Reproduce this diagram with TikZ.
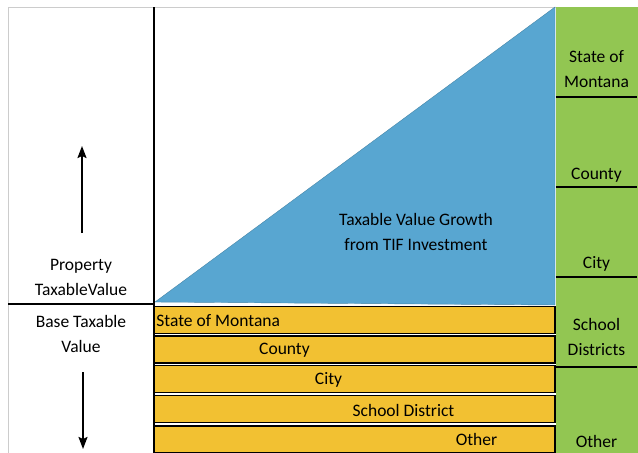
\documentclass[tikz,border=0pt]{standalone}
\usepackage{fontspec}
\setmainfont{Carlito}
\usetikzlibrary{positioning,arrows.meta}
\definecolor{tifblue}{RGB}{88,166,209}
\definecolor{baseyel}{RGB}{242,193,50}
\definecolor{distgrn}{RGB}{146,198,82}
\tikzstyle{ybar}=[shape=rectangle, draw=black, fill=baseyel, line width=1.6pt,
                  minimum width=401pt, minimum height=27pt, inner sep=0pt]
\tikzstyle{gbox}=[shape=rectangle, draw=distgrn, fill=distgrn,
                  minimum width=81pt, minimum height=90pt, inner sep=0pt]
\tikzstyle{txt}=[inner sep=1pt, align=center,
                  font=\fontsize{17.5}{25}\selectfont]
\tikzstyle{sep}=[line width=1.6pt]

\begin{document}
\begin{tikzpicture}[x=1pt, y=-1pt, >={Stealth[length=12pt, width=9pt, inset=2pt]}]
\useasboundingbox (0,0) rectangle (638,453);
\clip (0,0) rectangle (638,453);

% frame
\draw[black!20, thin] (8,7) rectangle (637,455);

% green column
\node[gbox] (g1) at (596.5,52) {};
\node[gbox] (g2) at (596.5,142) {};
\node[gbox] (g3) at (596.5,232) {};
\node[gbox] (g4) at (596.5,321.5) {};
\node[gbox] (g5) at (596.5,410.5) {};
\draw[sep] (g1.south west) -- (g1.south east);
\draw[sep] (g2.south west) -- (g2.south east);
\draw[sep] (g3.south west) -- (g3.south east);
\draw[sep] ([xshift=-3pt]g4.south west) -- (g4.south east);
\node[txt, above=8pt of g1.south] (gl1) {State of\\Montana};
\node[txt, above=4pt of g2.south] (gl2) {County};
\node[txt, above=5pt of g3.south] (gl3) {City};
\node[txt, above=10pt of g4.south] (gl4) {School\\Districts};
\node[txt, above=7pt of g5.south] (gl5) {Other};

% growth triangle
\coordinate (t1) at (155,302);
\coordinate (t2) at (555,7);
\coordinate (t3) at (555,305);
\draw[fill=tifblue, draw=tifblue!80!black, thin] (t1) -- (t2) -- (t3) -- cycle;
\node[txt] (grow) at (416,232) {Taxable Value Growth\\from TIF Investment};

% base bars
\node[ybar] (b1) at (354.5,320) {};
\node[ybar] (b2) at (354.5,349.5) {};
\node[ybar] (b3) at (354.5,379) {};
\node[ybar] (b4) at (354.5,409) {};
\node[ybar] (b5) at (354.5,439.5) {};
\node[txt, anchor=west] (bl1) at ([xshift=2pt, yshift=-1pt]b1.west) {State of Montana};
\node[txt] (bl2) at ([xshift=-70pt, yshift=-1pt]b2.center) {County};
\node[txt] (bl3) at ([xshift=-26pt, yshift=-1pt]b3.center) {City};
\node[txt] (bl4) at ([xshift=49pt, yshift=-1pt]b4.center) {School District};
\node[txt] (bl5) at ([xshift=122pt]b5.center) {Other};

% axes
\coordinate (vtop) at (154,7);
\coordinate (vbot) at (154,455);
\coordinate (hl) at (8,304);
\coordinate (hr) at (155,304);
\draw[sep] (vtop) -- (vbot);
\draw[sep] (hl) -- (hr);

% left labels and arrows
\node[txt] (prop) at (81,277) {Property\\TaxableValue};
\node[txt] (base) at (81,334) {Base Taxable\\Value};
\coordinate (ua) at (82,233);
\coordinate (ub) at (82,146);
\coordinate (da) at (83,372);
\coordinate (db) at (83,449);
\draw[->, line width=1.8pt] (ua) -- (ub);
\draw[->, line width=1.8pt] (da) -- (db);

\end{tikzpicture}
\end{document}
